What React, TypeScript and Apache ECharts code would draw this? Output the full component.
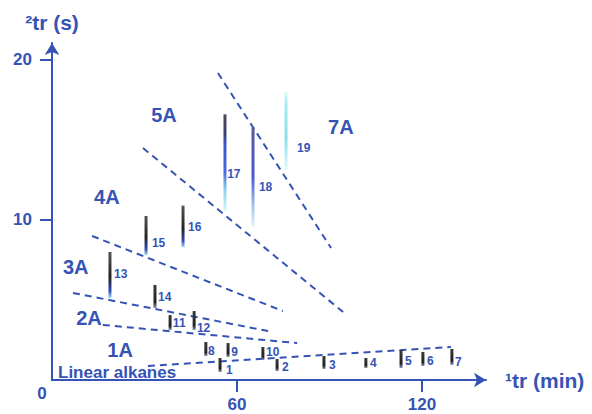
import React, { useEffect, useRef } from "react";
import * as echarts from "echarts";

// ---- data (axis units: 1tr in min, 2tr in s) ----
const peakIds = ["1","2","3","4","5","6","7","8","9","10","11","12","13","14","15","16","17","18","19"];
const peakX = [54.5, 73.0, 88.2, 101.8, 113.2, 120.3, 129.7, 49.9, 57.1, 68.4, 38.3, 46.1, 18.8, 33.4, 30.5, 42.5, 56.1, 65.2, 75.9];
const peakLow = [0.5, 0.56, 0.69, 0.75, 0.75, 0.875, 0.94, 1.5, 1.44, 1.25, 3.125, 3.125, 5.125, 4.5, 7.8, 8.3, 10.6, 9.6, 13.1];
const peakHigh = [1.375, 1.31, 1.5, 1.375, 1.875, 1.75, 1.94, 2.375, 2.31, 2.06, 4.06, 4.31, 8.0, 5.94, 10.25, 10.9, 16.6, 15.8, 18.0];
const peakLabelX = [56.4, 74.6, 89.8, 103.1, 114.5, 121.6, 130.7, 50.6, 58.1, 69.4, 39.2, 47.0, 20.1, 34.4, 32.4, 44.1, 56.8, 67.1, 79.5];
const peakLabelY = [0.625, 0.81, 0.94, 1.06, 1.19, 1.19, 1.125, 1.81, 1.75, 1.75, 3.56, 3.25, 6.6, 5.2, 8.56, 9.56, 12.9, 12.06, 14.5];

// separator lines: [x1, y1, x2, y2]
const sepLines = [
  [31.1, 0.875, 129.4, 2.06],
  [16.5, 3.44, 79.5, 2.31],
  [6.8, 5.44, 70.1, 3.06],
  [13.0, 9.0, 74.9, 4.31],
  [29.5, 14.5, 94.4, 4.25],
  [53.8, 19.19, 90.5, 8.25],
];

const regionNames = ["5A", "4A", "3A", "2A", "1A", "7A"];
const regionX = [36.3, 17.8, 7.7, 12.0, 22.1, 93.7];
const regionY = [16.56, 11.44, 7.06, 3.875, 1.875, 15.8];
const baseLabel = "Linear alkanes";
const baseLabelPos = [1.95, 0.44];

const xTicks = [60, 120];
const yTicks = [10, 20];

// ---- styles ----
const BLUE = "#3553b5";
const FONT = "Liberation Sans, Arial, Helvetica, sans-serif";
// tone per peak: 0 dark, 1 dark/blue, 2 dark->blue->cyan, 3 blue, 4 cyan
const peakTone = [0, 0, 0, 0, 0, 0, 0, 0, 0, 0, 0, 0, 1, 0, 1, 1, 2, 3, 4];
const toneStops: any[] = [
  [[0, "#3a3a3a"], [0.75, "#222222"], [1, "#8a96b8"]],
  [[0, "#555555"], [0.55, "#222222"], [0.85, "#2f4bb8"], [1, "#a8dcef"]],
  [[0, "#4a4a55"], [0.2, "#3a3f70"], [0.3, "#3d55c8"], [0.6, "#4a6ad8"], [0.8, "#8ed6ee"], [1, "#d8f3fa"]],
  [[0, "#5a5a9a"], [0.5, "#4a5ad0"], [0.8, "#a8c8ee"], [1, "#e4f0fb"]],
  [[0, "#e0f8fb"], [0.15, "#a6eaf2"], [0.6, "#88e0ec"], [1, "#e6f8fb"]],
];

export default function App() {
  const ref = useRef<HTMLDivElement>(null);
  useEffect(() => {
    if (!ref.current) return;
    const chart = echarts.init(ref.current, null, { renderer: "svg" });

    const peakData = peakIds.map((id, i) => [peakX[i], peakLow[i], peakHigh[i], i]);
    const peakLabelData = peakIds.map((id, i) => [peakLabelX[i], peakLabelY[i], id]);
    const regionData = regionNames.map((n, i) => [regionX[i], regionY[i], n]);

    const lineSeries = sepLines.map((l) => ({
      type: "line",
      data: [[l[0], l[1]], [l[2], l[3]]],
      symbol: "none",
      silent: true,
      lineStyle: { color: BLUE, width: 2, type: [7, 5] },
      z: 3,
    }));

    chart.setOption({
      animation: false,
      backgroundColor: "#ffffff",
      grid: { left: 52, top: 43, right: 106, bottom: 34, containLabel: false, outerBoundsMode: "none" },
      xAxis: {
        type: "value",
        min: 0,
        max: 140.76,
        splitLine: { show: false },
        axisLine: {
          show: true,
          onZero: false,
          symbol: ["none", "arrow"],
          symbolSize: [11, 12],
          lineStyle: { color: BLUE, width: 2 },
        },
        axisTick: { show: true, customValues: xTicks, length: 12, inside: false, lineStyle: { color: BLUE, width: 2 } },
        axisLabel: {
          customValues: xTicks,
          color: BLUE,
          fontSize: 17,
          fontWeight: "bold",
          fontFamily: FONT,
          margin: 16,
        },
        name: "¹tr (min)",
        nameLocation: "end",
        nameGap: 19,
        nameTextStyle: { color: BLUE, fontSize: 21, fontWeight: "bold", fontFamily: FONT, verticalAlign: "middle", align: "left" },
      },
      yAxis: {
        type: "value",
        min: 0,
        max: 21.06,
        splitLine: { show: false },
        axisLine: {
          show: true,
          onZero: false,
          symbol: ["none", "arrow"],
          symbolSize: [11, 12],
          lineStyle: { color: BLUE, width: 2 },
        },
        axisTick: { show: true, customValues: yTicks, length: 12, inside: false, lineStyle: { color: BLUE, width: 2 } },
        axisLabel: {
          customValues: yTicks,
          color: BLUE,
          fontSize: 17,
          fontWeight: "bold",
          fontFamily: FONT,
          margin: 20,
        },
        name: "²tr (s)",
        nameLocation: "end",
        nameGap: 10,
        nameTextStyle: { color: BLUE, fontSize: 21, fontWeight: "bold", fontFamily: FONT, align: "center", verticalAlign: "bottom" },
      },
      graphic: [
        {
          type: "text",
          x: 42,
          y: 393,
          style: { text: "0", fill: BLUE, font: `bold 17px ${FONT}`, textAlign: "center", textVerticalAlign: "middle" },
        },
      ],
      series: [
        ...lineSeries,
        {
          type: "custom",
          silent: true,
          z: 4,
          data: peakData,
          renderItem: (params: any, api: any) => {
            const x = api.value(0);
            const lo = api.coord([x, api.value(1)]);
            const hi = api.coord([x, api.value(2)]);
            const tone = peakTone[api.value(3)];
            const stops = toneStops[tone].map((s: any) => ({ offset: s[0], color: s[1] }));
            return {
              type: "rect",
              shape: { x: lo[0] - 1.5, y: hi[1], width: 3, height: lo[1] - hi[1] },
              style: { fill: new echarts.graphic.LinearGradient(0, 0, 0, 1, stops) },
            };
          },
        },
        {
          type: "custom",
          silent: true,
          z: 5,
          data: peakLabelData,
          renderItem: (params: any, api: any) => {
            const p = api.coord([api.value(0), api.value(1)]);
            return {
              type: "text",
              x: p[0],
              y: p[1],
              style: {
                text: peakLabelData[params.dataIndex][2],
                fill: BLUE,
                font: `bold 12px ${FONT}`,
                textAlign: "left",
                textVerticalAlign: "middle",
              },
            };
          },
        },
        {
          type: "custom",
          silent: true,
          z: 5,
          data: regionData,
          renderItem: (params: any, api: any) => {
            const p = api.coord([api.value(0), api.value(1)]);
            return {
              type: "text",
              x: p[0],
              y: p[1],
              style: {
                text: regionData[params.dataIndex][2],
                fill: BLUE,
                font: `bold 20px ${FONT}`,
                textAlign: "center",
                textVerticalAlign: "middle",
              },
            };
          },
        },
        {
          type: "custom",
          silent: true,
          z: 5,
          data: [[baseLabelPos[0], baseLabelPos[1]]],
          renderItem: (params: any, api: any) => {
            const p = api.coord([api.value(0), api.value(1)]);
            return {
              type: "text",
              x: p[0],
              y: p[1],
              style: {
                text: baseLabel,
                fill: BLUE,
                font: `bold 17px ${FONT}`,
                textAlign: "left",
                textVerticalAlign: "middle",
              },
            };
          },
        },
      ],
    });
    return () => chart.dispose();
  }, []);

  return (
    <div
      ref={ref}
      style={{ position: "fixed", left: 0, top: 0, width: 592, height: 414, background: "#fff" }}
    />
  );
}
